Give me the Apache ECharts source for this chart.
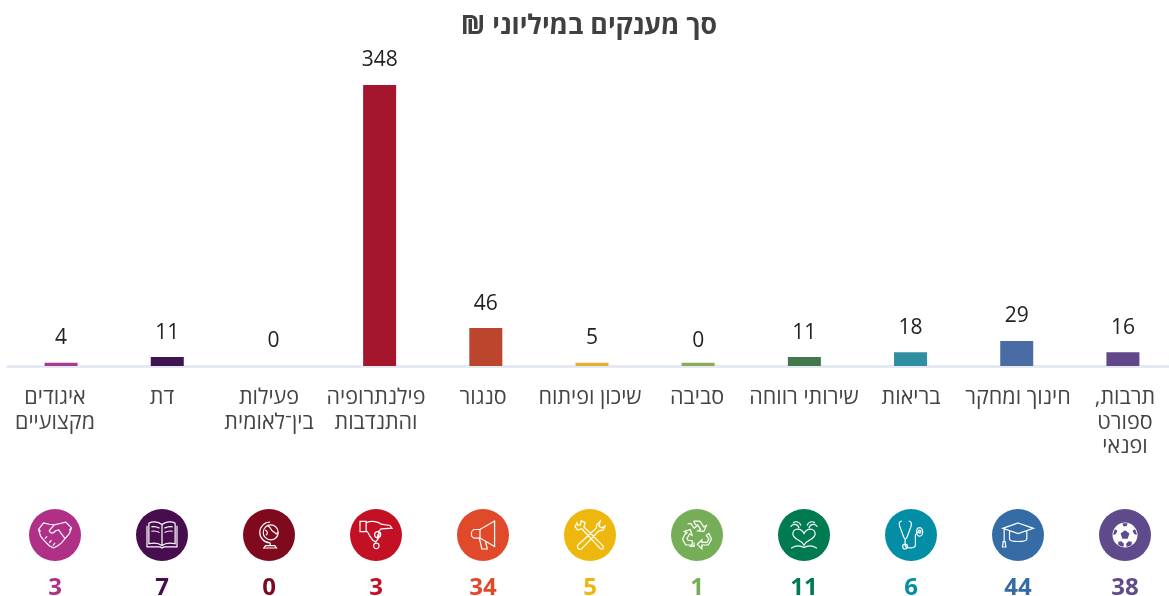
<!DOCTYPE html>
<html lang="he" dir="rtl"><head><meta charset="utf-8">
<style>html,body{margin:0;padding:0;background:#fff;overflow:hidden;width:1169px;height:596px}#c{position:absolute;left:0;top:0;width:1190px;height:596px}</style>
<script src="https://cdn.jsdelivr.net/npm/echarts@6/dist/echarts.min.js"></script></head>
<body><div id="c"></div>
<script>
// All arrays run in reading order: right to left.
const titleText = 'סך מענקים במיליוני ₪';
const categories = ['תרבות,\nספורט\nופנאי','חינוך ומחקר','בריאות','שירותי רווחה','סביבה','שיכון ופיתוח','סנגור','פילנתרופיה\nוהתנדבות','פעילות\nבין־לאומית','דת','איגודים\nמקצועיים'];
const grantLabels = [16,29,18,11,0,5,46,348,0,11,4];
const barValues = [17,31,17,11,4,4,47,348,0,11,4];
const counts = [38,44,6,11,1,5,34,3,0,7,3];
const barColors = ['#62478b','#4b6ba5','#2f8ea0','#43784f','#8bab5b','#e0b02e','#bc452e','#a3162b','#8a1020','#3f1452','#a83a8f'];
const circleColors = ['#5f4a8c','#356ca6','#048ea5','#007a50','#76ae57','#eeb70e','#e04a2b','#c41024','#7f0a1d','#470d4e','#b03088'];
const FONT = '"Open Sans","Noto Sans","Liberation Sans",sans-serif';
const icons = [
 'path://M50 2A48 48 0 1 1 49.9 2ZM50 32L33 44L40 64L60 64L67 44ZM40 6L44 16L56 16L60 6C53 4 47 4 40 6ZM12 28C8 34 5 42 5 50L15 46L21 34L12 28ZM88 28L79 34L85 46L95 50C95 42 92 34 88 28ZM24 86C30 91 36 94 44 95L46 84L36 74L24 76ZM76 86L76 76L64 74L54 84L56 95C64 94 70 91 76 86Z',
 'path://M50 14L96 30L50 46L4 30ZM24 38V62C24 72 76 72 76 62V38M8 32V70M5 70H11L13 86H3Z',
 'path://M18 4C8 4 8 12 10 20L24 58M40 4C48 4 50 12 48 20L34 58C32 64 26 64 24 58M28 62V82C28 96 62 96 62 82V52C62 44 70 40 76 40M76 26A10 14 0 1 1 75.9 26ZM76 34A4 5 0 1 1 75.9 34ZM28 80A8 8 0 1 1 27.9 80Z',
 'path://M50 46C38 24 10 30 14 50C18 68 42 66 50 84C58 66 82 68 86 50C90 30 62 24 50 46ZM14 12C24 4 36 8 40 20M6 24C14 12 30 14 34 28M86 12C76 4 64 8 60 20M94 24C86 12 70 14 66 28M8 94C24 84 40 86 50 92C60 86 76 84 92 94',
 'path://M40 6L50 22L42 28L32 14H22M60 6H40M60 6L72 24L80 20L72 38L54 36L62 32L52 16M14 46L6 62L16 80H36V66H24L20 60L28 46L36 50L30 32L12 38L20 42ZM88 44L96 62L86 80H66V92L52 78L66 64V72H82L88 62L80 50ZM42 72V84H28',
 'path://M16 8L10 20L18 30L30 26L82 82C90 90 98 82 90 74L36 20L40 8L28 2L26 14L18 16ZM84 4L74 14L72 24L20 72C12 78 22 92 30 84L80 32L92 30L98 18L88 24L80 18Z',
 'path://M82 6V90L34 62H18A12 12 0 0 1 6 48V46A12 12 0 0 1 18 34H34ZM34 34V62M32 62L40 98H58L52 72',
 'path://M4 14H22V44H4ZM22 18C40 10 60 16 66 22L92 26L98 34L66 36L58 44C62 54 60 66 50 74L42 70L32 56C28 44 24 46 22 40M56 44A9 9 0 1 1 55.9 44ZM56 52V66M52 78A8 8 0 1 1 51.9 78Z',
 'path://M44 6A36 36 0 1 0 44.1 78M46 16A26 26 0 1 1 45.9 16ZM36 20C48 22 44 36 56 40C66 44 62 54 70 42M26 34C34 36 38 46 30 52M44 78V88M22 96H66L60 88H28Z',
 'path://M50 16C36 6 18 6 8 12V78C24 74 38 74 50 84C62 74 76 74 92 78V12C82 6 64 6 50 16ZM50 16V84M2 20V88H44L50 92L56 88H98V20M16 24C24 22 34 24 42 28M16 38C24 36 34 38 42 42M58 28C66 24 76 22 84 24M58 42C66 38 76 36 84 38',
 'path://M4 34L18 16L34 20L48 22L64 18L80 14L96 30L90 46L78 60L68 72L58 80L46 86L34 80L22 68L10 54ZM48 22L34 38C38 48 46 46 52 38L60 36L78 60M22 60L28 54M34 72L40 64M44 80L50 72M4 34L10 40M96 30L90 36'
];
const iconSizes = [25,31,28,27,29,30,28,32,26,30,33];
const ROW = 1;
const chart = echarts.init(document.getElementById('c'), null, {renderer:'canvas'});
chart.setOption({
 animation:false,
 backgroundColor:'#fff',
 title:{text:titleText,left:584,textAlign:'center',top:8,textStyle:{fontFamily:FONT,fontSize:26.7,fontWeight:700,color:'#404040'}},
 grid:[
  {left:8,width:1168,top:43,bottom:230},
  {left:1.5,width:1177,top:500,height:70},
  {left:1.5,width:1177,top:366,height:1}
 ],
 xAxis:[
  {type:'category',gridIndex:0,inverse:true,data:categories,
   axisTick:{show:false},axisLabel:{show:false},axisLine:{lineStyle:{color:'#e4e9f2',width:3}}},
  {type:'category',gridIndex:1,inverse:true,data:categories,show:false},
  {type:'category',gridIndex:2,inverse:true,data:categories,
   axisTick:{show:false},axisLine:{show:false},
   axisLabel:{interval:0,margin:19,fontFamily:FONT,fontSize:21.5,lineHeight:24.5,color:'#444',verticalAlign:'top'}}
 ],
 yAxis:[
  {type:'value',gridIndex:0,min:0,max:400,show:false},
  {type:'value',gridIndex:1,min:0,max:2,show:false},
  {type:'value',gridIndex:2,show:false}
 ],
 series:[
  {type:'bar',xAxisIndex:0,yAxisIndex:0,barWidth:33,
   data:barValues.map((v,i)=>({value:v,itemStyle:{color:barColors[i]},
     label:{show:true,position:'top',distance:14,formatter:String(grantLabels[i]),fontFamily:FONT,fontSize:21,color:'#222',offset:[0,(grantLabels[i]===0&&v>0)?3:0]}}))},
  {type:'scatter',xAxisIndex:1,yAxisIndex:1,symbol:'circle',symbolSize:52,silent:true,z:3,
   data:counts.map((v,i)=>({value:[i,ROW],itemStyle:{color:circleColors[i],opacity:1},
     label:{show:true,position:'bottom',distance:15,formatter:String(v),fontFamily:FONT,fontSize:24,fontWeight:700,color:circleColors[i]}}))},
  {type:'scatter',xAxisIndex:1,yAxisIndex:1,silent:true,z:4,
   data:icons.map((p,i)=>({value:[i,ROW],symbol:p,symbolSize:iconSizes[i],symbolKeepAspect:true,
     itemStyle:i===0?{color:'#fff',opacity:1}:{color:'transparent',borderColor:'#fff',borderWidth:1.2,opacity:1}}))},
  {type:'bar',xAxisIndex:2,yAxisIndex:2,data:[],silent:true}
 ]
});
</script></body></html>
